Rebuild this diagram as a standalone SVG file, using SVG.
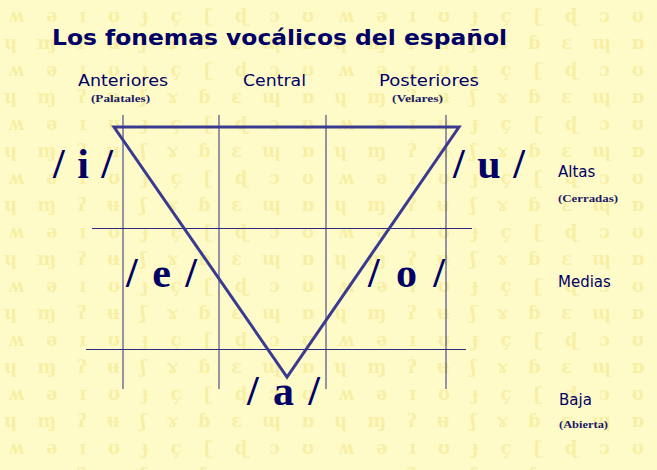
<svg xmlns="http://www.w3.org/2000/svg" width="657" height="470" viewBox="0 0 657 470">
<style>
.bgsym{font-family:"DejaVu Serif","Liberation Serif",serif;font-size:18px;font-weight:bold;fill:#f8efa6}
.title{font-family:"DejaVu Sans",Verdana,sans-serif;font-weight:bold;font-size:22px;fill:#000066}
.lbl{font-family:"DejaVu Sans",Verdana,sans-serif;font-size:16px;fill:#000066}
.rlbl{font-family:"DejaVu Sans",Verdana,sans-serif;font-size:15px;fill:#000066}
.sub{font-family:"Liberation Serif","Times New Roman",serif;font-weight:bold;font-size:11px;fill:#1a1a66}
.ph{font-family:"Liberation Serif","Times New Roman",serif;font-weight:bold;font-size:42px;fill:#000066}
.grid{stroke:#2a2a80;stroke-width:1;fill:none}
.tri{stroke:#3a3a90;stroke-width:3;fill:none;stroke-linejoin:miter}
</style>
<defs>
<pattern id="bg" x="0" y="0" width="330" height="54" patternUnits="userSpaceOnUse">
<rect width="330" height="54" fill="#fffbc8"/>
<text class="bgsym" x="8" y="22" textLength="306" lengthAdjust="spacing">ʍ ə ɪ ʊ ɟ ç ʗ ɖ ɔ ʊ</text>
<text class="bgsym" x="4" y="49" textLength="310" lengthAdjust="spacing">ɥ ɱ ʔ ʉ ʃ ɤ ɓ ɛ ɰ ɒ</text>
</pattern>
</defs>
<rect width="657" height="470" fill="url(#bg)"/>

<g id="title"><text class="title" x="52" y="45" textLength="455" lengthAdjust="spacingAndGlyphs">Los fonemas vocálicos del español</text></g>

<g id="connectors">
<line class="grid" x1="123" y1="115" x2="123" y2="389"/>
<line class="grid" x1="219" y1="115" x2="219" y2="389"/>
<line class="grid" x1="326" y1="115" x2="326" y2="389"/>
<line class="grid" x1="446" y1="115" x2="446" y2="389"/>
<line class="grid" x1="92" y1="228.5" x2="472" y2="228.5"/>
<line class="grid" x1="86" y1="349.5" x2="466" y2="349.5"/>
<polygon class="tri" points="114,127 459,127 287,377"/>
</g>

<g id="col-anteriores">
<text class="lbl" x="78" y="86" textLength="90" lengthAdjust="spacingAndGlyphs">Anteriores</text>
<text class="sub" x="91" y="102" textLength="59" lengthAdjust="spacingAndGlyphs">(Palatales)</text>
</g>
<g id="col-central"><text class="lbl" x="243" y="86" textLength="63" lengthAdjust="spacingAndGlyphs">Central</text></g>
<g id="col-posteriores">
<text class="lbl" x="379" y="86" textLength="100" lengthAdjust="spacingAndGlyphs">Posteriores</text>
<text class="sub" x="392" y="102" textLength="51" lengthAdjust="spacingAndGlyphs">(Velares)</text>
</g>

<g id="row-altas">
<text class="rlbl" x="558" y="177">Altas</text>
<text class="sub" x="558" y="202" textLength="60" lengthAdjust="spacingAndGlyphs">(Cerradas)</text>
</g>
<g id="row-medias"><text class="rlbl" x="558" y="287">Medias</text></g>
<g id="row-baja">
<text class="rlbl" x="559" y="405">Baja</text>
<text class="sub" x="559" y="428" textLength="49" lengthAdjust="spacingAndGlyphs">(Abierta)</text>
</g>

<g id="v-i"><text class="ph" x="53" y="178" textLength="60" lengthAdjust="spacing">/ i /</text></g>
<g id="v-u"><text class="ph" x="453" y="178" textLength="72" lengthAdjust="spacing">/ u /</text></g>
<g id="v-e"><text class="ph" x="126" y="287" textLength="71" lengthAdjust="spacing">/ e /</text></g>
<g id="v-o"><text class="ph" x="368" y="287" textLength="77" lengthAdjust="spacing">/ o /</text></g>
<g id="v-a"><text class="ph" x="247" y="405" textLength="73" lengthAdjust="spacing">/ a /</text></g>
</svg>
